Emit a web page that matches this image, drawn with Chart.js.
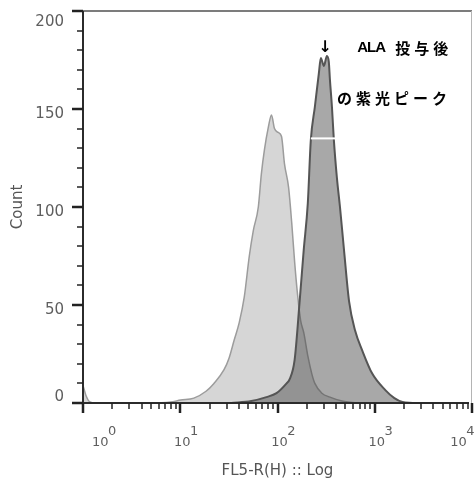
<!DOCTYPE html>
<html><head><meta charset="utf-8">
<script src="https://cdn.jsdelivr.net/npm/chart.js@4"></script>
<style>html,body{margin:0;padding:0;background:#fff}#wrap{width:475px;height:484px;position:relative}</style>
</head><body><div id="wrap"><canvas id="c"></canvas></div>
<script>
// ---- data ----
const xMajorTicks = [1, 10, 100, 1000, 10000];
const xExponents  = ['0', '1', '2', '3', '4'];
const xMinorMultipliers = [2, 3, 4, 5, 6, 7, 8, 9];
const yMajorTicks = [0, 50, 100, 150, 200];
const yTickLabels = ['0', '50', '100', '150', '200'];
const yMinorStep = 10;

// control (light grey) histogram
const ctrlFL    = [1, 1.07, 1.18, 1.33, 4.94, 7.97, 10.1, 13.8, 18.4, 22.2, 28.2, 31.8, 35.8, 40.4, 45.5, 51.3, 56.4, 63.5, 68.3, 73.3, 80.7, 86.7, 93.1, 102, 110, 118, 130, 140, 150, 161, 173, 186, 205, 225, 242, 286, 346, 460, 659];
const ctrlCount = [9, 4, 0.5, 0, 0, 0.5, 1.5, 2.5, 6, 10, 17, 23, 32, 41, 54, 75, 88, 100, 117, 129, 141, 147, 140, 138, 136, 122, 110, 92, 72, 55, 42, 36, 24, 15, 10, 5, 3, 1, 0];

// after ALA (dark grey) histogram
const alaFL    = [33.4, 53.8, 76.9, 97.7, 124, 133, 150, 169, 186, 205, 220, 242, 266, 279, 300, 322, 337, 346, 363, 380, 408, 439, 483, 544, 628, 741, 942, 1285, 1592, 1928, 2447];
const alaCount = [0, 1, 3, 5, 10, 12, 22, 52, 78, 102, 134, 151, 168, 176, 172, 177, 174, 165, 151, 134, 115, 100, 78, 52, 37, 27, 15, 6.6, 2.5, 0.5, 0];

// white marker bar across the ALA peak
const markerFL    = [220, 390];
const markerCount = [135, 135];

const xTitle = 'FL5-R(H) :: Log';
const yTitle = 'Count';
const noteArrow = '↓';
const noteLine1a = 'ALA';
const noteLine1b = '投与後';
const noteLine2 = 'の紫光ピーク';
// annotation anchors in data space
const noteArrowAt = {fl: 307, count: 181};
const noteLine1At = {fl: 659, count: 181};
const noteLine2At = {fl: 408, count: 155.6};

function pts(xs, ys){ return xs.map((v,i)=>({x:v, y:ys[i]})); }
function spacing(ctx, v){ try { ctx.letterSpacing = v; } catch(e) {} }

const decor = {
  id: 'decor',
  afterDatasetsDraw(chart){
    const {ctx, chartArea:a, scales:{x, y}} = chart;
    ctx.save();
    spacing(ctx, '0px');
    // frame top / right
    ctx.strokeStyle = '#7c7c7c'; ctx.lineWidth = 2;
    ctx.beginPath(); ctx.moveTo(a.left, a.top); ctx.lineTo(a.right, a.top); ctx.stroke();
    ctx.strokeStyle = '#b4b4b4'; ctx.lineWidth = 1;
    ctx.beginPath(); ctx.moveTo(a.right - 0.5, a.top); ctx.lineTo(a.right - 0.5, a.bottom); ctx.stroke();
    // axes
    ctx.strokeStyle = '#2b2b2b'; ctx.lineWidth = 2;
    ctx.beginPath(); ctx.moveTo(a.left, a.top); ctx.lineTo(a.left, a.bottom); ctx.lineTo(a.right - 3, a.bottom); ctx.stroke();
    // y ticks
    ctx.strokeStyle = '#222';
    for (let v = 0; v <= 200; v += yMinorStep){
      const py = Math.round(y.getPixelForValue(v));
      const major = yMajorTicks.includes(v);
      ctx.lineWidth = major ? 2.5 : 1.5;
      ctx.beginPath(); ctx.moveTo(a.left - (major ? 11 : 6), py); ctx.lineTo(a.left, py); ctx.stroke();
    }
    // x ticks
    xMajorTicks.forEach((d, i) => {
      const px = Math.round(x.getPixelForValue(d));
      ctx.lineWidth = 2.5;
      ctx.beginPath(); ctx.moveTo(px, a.bottom); ctx.lineTo(px, a.bottom + 10); ctx.stroke();
      if (i < xMajorTicks.length - 1){
        xMinorMultipliers.forEach(m => {
          const pm = Math.round(x.getPixelForValue(d * m));
          ctx.lineWidth = 1.5;
          ctx.beginPath(); ctx.moveTo(pm, a.bottom); ctx.lineTo(pm, a.bottom + 6); ctx.stroke();
        });
      }
    });
    // y tick labels
    ctx.fillStyle = '#5e5e5e';
    ctx.font = '15px "DejaVu Sans"';
    ctx.textAlign = 'right'; ctx.textBaseline = 'middle';
    yMajorTicks.forEach((v, i) => {
      let py = y.getPixelForValue(v) + 5;
      py = Math.min(Math.max(py, 22), 397);
      ctx.fillText(yTickLabels[i], a.left - 19, py);
    });
    // x tick labels 10^k
    ctx.font = '13px "DejaVu Sans"';
    ctx.textAlign = 'left';
    const bw = ctx.measureText('10').width;
    xMajorTicks.forEach((d, i) => {
      const px = x.getPixelForValue(d);
      const sw = ctx.measureText(xExponents[i]).width;
      let left = px + 2 - bw / 2;
      left = Math.max(left, 92);
      if (left + bw + sw > 475) left = 475 - bw - sw;
      ctx.fillText('10', left, 443);
      ctx.fillText(xExponents[i], left + bw - 0.5, 432);
    });
    ctx.restore();
  },
  afterDraw(chart){
    const {ctx, scales:{x, y}} = chart;
    ctx.save();
    spacing(ctx, '0px');
    ctx.fillStyle = '#000';
    ctx.textBaseline = 'middle'; ctx.textAlign = 'center';
    ctx.font = 'bold 16px "DejaVu Sans"';
    ctx.fillText(noteArrow, x.getPixelForValue(noteArrowAt.fl), y.getPixelForValue(noteArrowAt.count));
    ctx.textAlign = 'left';
    const l1x = x.getPixelForValue(noteLine1At.fl), l1y = y.getPixelForValue(noteLine1At.count);
    ctx.font = 'bold 15px "Liberation Sans"';
    spacing(ctx, '-1px');
    ctx.fillText(noteLine1a, l1x, l1y);
    ctx.font = 'bold 15px "Noto Sans CJK JP"';
    spacing(ctx, '4px');
    ctx.fillText(noteLine1b, l1x + 38, l1y);
    ctx.fillText(noteLine2, x.getPixelForValue(noteLine2At.fl), y.getPixelForValue(noteLine2At.count));
    spacing(ctx, '0px');
    ctx.restore();
  }
};

new Chart(document.getElementById('c'), {
  type: 'line',
  data: {
    datasets: [
      { label: 'control', data: pts(ctrlFL, ctrlCount), borderColor: '#9c9c9c', borderWidth: 1.5,
        backgroundColor: '#d6d6d6', fill: 'origin', pointRadius: 0, cubicInterpolationMode: 'monotone', order: 3 },
      { label: 'ALA', data: pts(alaFL, alaCount), borderColor: '#555', borderWidth: 2,
        backgroundColor: 'rgba(74,74,74,0.48)', fill: 'origin', pointRadius: 0, cubicInterpolationMode: 'monotone', order: 2 },
      { label: 'marker', data: pts(markerFL, markerCount), borderColor: '#fff', borderWidth: 2,
        fill: false, pointRadius: 0, order: 1 }
    ]
  },
  options: {
    responsive: true, maintainAspectRatio: false, animation: false,
    layout: { padding: { left: 0, right: 3, top: 11, bottom: 0 } },
    plugins: { legend: { display: false }, tooltip: { enabled: false } },
    scales: {
      x: {
        type: 'logarithmic', min: 1, max: 10000,
        grid: { display: false, drawTicks: false }, border: { display: false },
        ticks: { display: false },
        title: { display: true, text: xTitle, color: '#555', font: { family: 'DejaVu Sans', size: 15 }, padding: { top: 0, bottom: 4 } },
        afterFit(s){ s.height = 81; }
      },
      y: {
        min: 0, max: 200,
        grid: { display: false, drawTicks: false }, border: { display: false },
        ticks: { display: false, stepSize: 50 },
        title: { display: true, text: yTitle, color: '#555', font: { family: 'DejaVu Sans', size: 15 }, padding: { top: 9, bottom: 0 } },
        afterFit(s){ s.width = 83; }
      }
    }
  },
  plugins: [decor]
});
</script>
</body></html>
